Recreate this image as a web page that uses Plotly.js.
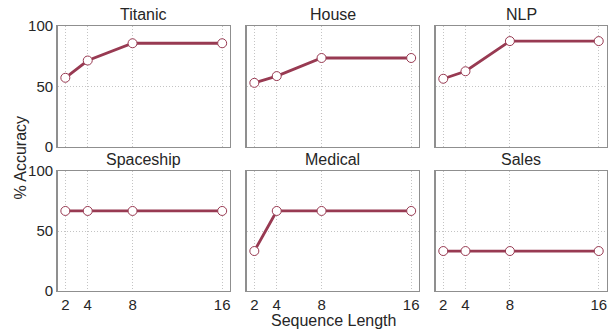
<!DOCTYPE html>
<html>
<head>
<meta charset="utf-8">
<script src="https://cdn.plot.ly/plotly-3.0.1.min.js"></script>
<style>html,body{margin:0;padding:0;background:#fff;}#chart{width:610px;height:329px;}</style>
</head>
<body>
<div id="chart"></div>
<script>
// ---- data ----
const seqLen = [2, 4, 8, 16];
const datasets = ["Titanic", "House", "NLP", "Spaceship", "Medical", "Sales"];
const titanic   = [57.1, 71.4, 85.7, 85.7];
const house     = [52.9, 58.5, 73.5, 73.5];
const nlp       = [56.3, 62.5, 87.5, 87.5];
const spaceship = [66.7, 66.7, 66.7, 66.7];
const medical   = [33.3, 66.7, 66.7, 66.7];
const sales     = [33.3, 33.3, 33.3, 33.3];
const yTicks = [0, 50, 100];
const xLabel = "Sequence Length";
const yLabel = "% Accuracy";

const series = [titanic, house, nlp, spaceship, medical, sales];

// ---- layout ----
const W = 610, H = 329;
const colPx = [[57.5, 230], [246.5, 419], [435.5, 606.5]];
const rowPx = [[26, 146.7], [171, 291]];
const lineColor = "#983a52";
const font = "Liberation Sans, Arial, sans-serif";
const textColor = "#262626";

const traces = [];
const layout = {
  width: W, height: H,
  margin: {l: 0, r: 0, t: 0, b: 0},
  paper_bgcolor: "#fff", plot_bgcolor: "#fff",
  showlegend: false,
  font: {family: font, size: 15, color: textColor},
  annotations: []
};

series.forEach((vals, i) => {
  const r = Math.floor(i / 3), c = i % 3;
  const n = i + 1;
  const xa = n === 1 ? "x" : "x" + n;
  const ya = n === 1 ? "y" : "y" + n;
  const xKey = n === 1 ? "xaxis" : "xaxis" + n;
  const yKey = n === 1 ? "yaxis" : "yaxis" + n;
  traces.push({
    x: seqLen, y: vals, xaxis: xa, yaxis: ya,
    type: "scatter", mode: "lines+markers",
    line: {color: lineColor, width: 2.8},
    marker: {size: 9, color: "#fff", line: {color: lineColor, width: 1}},
    cliponaxis: false, hoverinfo: "skip"
  });
  const xd = [colPx[c][0] / W, colPx[c][1] / W];
  const yd = [1 - rowPx[r][1] / H, 1 - rowPx[r][0] / H];
  layout[xKey] = {
    domain: xd, anchor: ya, range: [1.3, 16.7],
    tickvals: seqLen, ticktext: seqLen.map(String),
    showticklabels: r === 1, ticks: "",
    showgrid: true, gridcolor: "#c4c4c4", griddash: "1px,2px", gridwidth: 1,
    zeroline: false, showline: true, mirror: true,
    linecolor: "#8f8f8f", linewidth: 1.4,
    tickfont: {size: 15, color: textColor, family: font},
    fixedrange: true
  };
  layout[yKey] = {
    domain: yd, anchor: xa, range: [0, 100],
    tickvals: yTicks, showticklabels: c === 0, ticks: "",
    showgrid: true, gridcolor: "#c4c4c4", griddash: "1px,2px", gridwidth: 1,
    zeroline: false, showline: true, mirror: true,
    linecolor: "#8f8f8f", linewidth: 1.4,
    tickfont: {size: 15, color: textColor, family: font},
    fixedrange: true
  };
  layout.annotations.push({
    text: datasets[i], xref: "paper", yref: "paper",
    x: (xd[0] + xd[1]) / 2, y: yd[1] + 1 / H,
    xanchor: "center", yanchor: "bottom", showarrow: false,
    font: {size: 16, color: textColor, family: font}
  });
});

layout.annotations.push({
  text: xLabel, xref: "paper", yref: "paper",
  x: 333 / W, y: 1 - 320 / H, xanchor: "center", yanchor: "middle",
  showarrow: false, font: {size: 16, color: textColor, family: font}
});
layout.annotations.push({
  text: yLabel, xref: "paper", yref: "paper",
  x: 20 / W, y: 1 - 157.5 / H, xanchor: "center", yanchor: "middle",
  textangle: -90, showarrow: false, font: {size: 16, color: textColor, family: font}
});

Plotly.newPlot("chart", traces, layout, {staticPlot: true, displayModeBar: false});
</script>
</body>
</html>
